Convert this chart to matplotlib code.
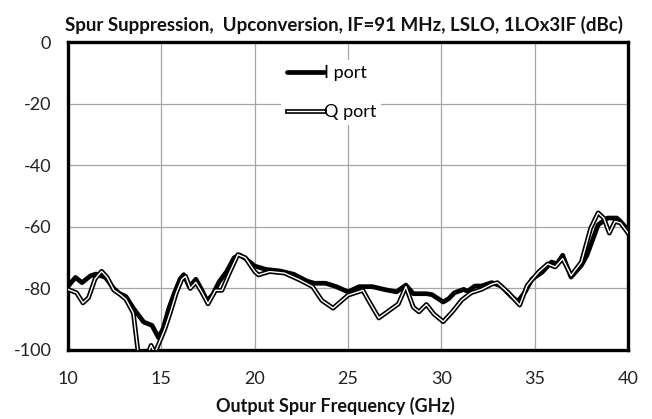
import matplotlib
matplotlib.use("Agg")
import matplotlib.pyplot as plt
import matplotlib.patheffects as pe

plt.rcParams["font.family"] = ["Lato", "DejaVu Sans"]

# I port spur suppression (dBc) vs output spur frequency (GHz)
i_freq = [10.0, 10.4, 10.75, 11.2, 11.5, 12.0, 12.45, 12.75, 13.1, 13.5, 14.05, 14.5,
          14.85, 15.1, 15.4, 15.7, 16.0, 16.2, 16.5, 16.85, 17.15, 17.45, 17.75, 18.1,
          18.5, 18.9, 19.2, 19.56, 20.0, 20.6, 21.35, 22.1, 22.8, 23.2, 23.8, 24.37,
          25.0, 25.6, 26.3, 27.0, 27.6, 28.1, 28.5, 29.2, 29.5, 30.1, 30.4, 30.7,
          31.2, 31.4, 31.8, 32.15, 32.7, 33.2, 33.75, 34.1, 34.5, 34.85, 35.4, 35.9,
          36.2, 36.5, 36.95, 37.5, 37.8, 38.4, 38.9, 39.4, 39.6, 40.0]
i_val = [-79.3, -76.4, -78.1, -75.9, -75.3, -76.4, -80.0, -81.6, -82.6, -86.4, -90.9, -92.0,
         -96.0, -93.0, -86.5, -81.5, -77.0, -75.5, -79.5, -77.0, -80.3, -84.0, -82.0, -77.8,
         -74.5, -70.0, -69.1, -70.5, -72.7, -73.8, -74.3, -75.4, -77.6, -78.3, -78.3, -79.4,
         -81.1, -79.4, -79.4, -80.4, -81.1, -78.9, -81.7, -81.7, -82.0, -84.4, -83.3, -81.4,
         -80.3, -80.9, -79.2, -79.2, -78.1, -79.2, -82.6, -84.2, -81.0, -77.0, -74.7, -71.4,
         -72.0, -69.2, -76.3, -72.5, -69.2, -59.3, -57.1, -57.1, -58.2, -61.0]

# Q port spur suppression (dBc) vs output spur frequency (GHz)
q_freq = [10.0, 10.46, 10.8, 11.1, 11.45, 11.8, 12.1, 12.45, 12.8, 13.1, 13.5, 13.75,
          14.1, 14.45, 14.65, 15.0, 15.2, 15.5, 15.8, 16.1, 16.3, 16.55, 16.85, 17.15,
          17.5, 17.9, 18.25, 18.6, 19.1, 19.5, 20.0, 20.2, 20.8, 21.6, 22.4, 23.1,
          23.6, 24.2, 25.0, 25.8, 26.1, 26.65, 27.2, 27.7, 28.1, 28.5, 28.8, 29.2,
          29.6, 30.1, 30.6, 31.1, 31.6, 32.15, 32.7, 33.0, 33.6, 34.2, 34.6, 35.2,
          35.7, 36.1, 36.5, 36.95, 37.5, 38.0, 38.4, 38.7, 39.0, 39.3, 39.6, 40.0]
q_val = [-80.3, -81.4, -84.7, -83.0, -76.9, -74.4, -76.4, -80.5, -82.0, -83.5, -88.0, -100.5,
         -104.0, -98.5, -101.0, -96.0, -93.0, -87.5, -81.5, -77.0, -76.0, -80.0, -78.0, -81.0,
         -85.0, -80.6, -80.6, -75.6, -69.0, -70.0, -74.5, -75.6, -74.5, -75.0, -77.2, -79.4,
         -83.9, -86.4, -82.2, -80.6, -83.9, -89.6, -87.2, -85.0, -79.4, -86.1, -87.6, -85.2,
         -88.3, -90.8, -87.5, -83.7, -81.4, -80.3, -78.6, -78.1, -81.4, -85.4, -79.0, -74.7,
         -72.0, -73.0, -70.3, -75.8, -71.4, -60.4, -55.4, -57.1, -62.0, -58.2, -58.7, -62.0]

x_ticks = [10, 15, 20, 25, 30, 35, 40]
y_ticks = [0, -20, -40, -60, -80, -100]

fig = plt.figure(figsize=(6.52, 4.19), dpi=100)
ax = fig.add_axes([0.1043, 0.1647, 0.8589, 0.734])

ax.set_xlim(10, 40)
ax.set_ylim(-100, 0)
ax.set_xticks(x_ticks)
ax.set_yticks(y_ticks)
ax.set_xticklabels([str(t) for t in x_ticks])
ax.set_yticklabels([str(t) for t in y_ticks])
ax.tick_params(length=0, labelsize=13, colors="#222222")
ax.tick_params(axis="x", pad=15)
ax.tick_params(axis="y", pad=12)
ax.grid(True, color="#a6a6a6", linewidth=0.9)
ax.set_axisbelow(True)
for s in ax.spines.values():
    s.set_linewidth(2.4)
    s.set_color("black")

ax.plot(i_freq, i_val, color="black", lw=3.4, solid_joinstyle="round",
        solid_capstyle="round", label="I port", zorder=3)
ax.plot(q_freq, q_val, color="white", lw=1.0, solid_joinstyle="round",
        label="Q port", zorder=4,
        path_effects=[pe.Stroke(linewidth=3.4, foreground="black"), pe.Normal()])

leg = ax.legend(loc="upper center", bbox_to_anchor=(0.47, 0.943), frameon=True,
                fontsize=13, handlelength=2.05, handletextpad=0.0, labelspacing=1.25,
                borderpad=0.3, borderaxespad=0)
leg.get_frame().set_edgecolor("none")
leg.get_frame().set_facecolor("white")
leg.get_frame().set_alpha(1)

fig.text(0.527, 0.941, "Spur Suppression,  Upconversion, IF=91 MHz, LSLO, 1LOx3IF (dBc)",
         ha="center", va="center", fontsize=13.5, fontweight="bold", color="#111111")
fig.text(0.515, 0.03, "Output Spur Frequency (GHz)", ha="center", va="center",
         fontsize=13, fontweight="bold", color="#111111")

fig.savefig("out.png", dpi=100)
